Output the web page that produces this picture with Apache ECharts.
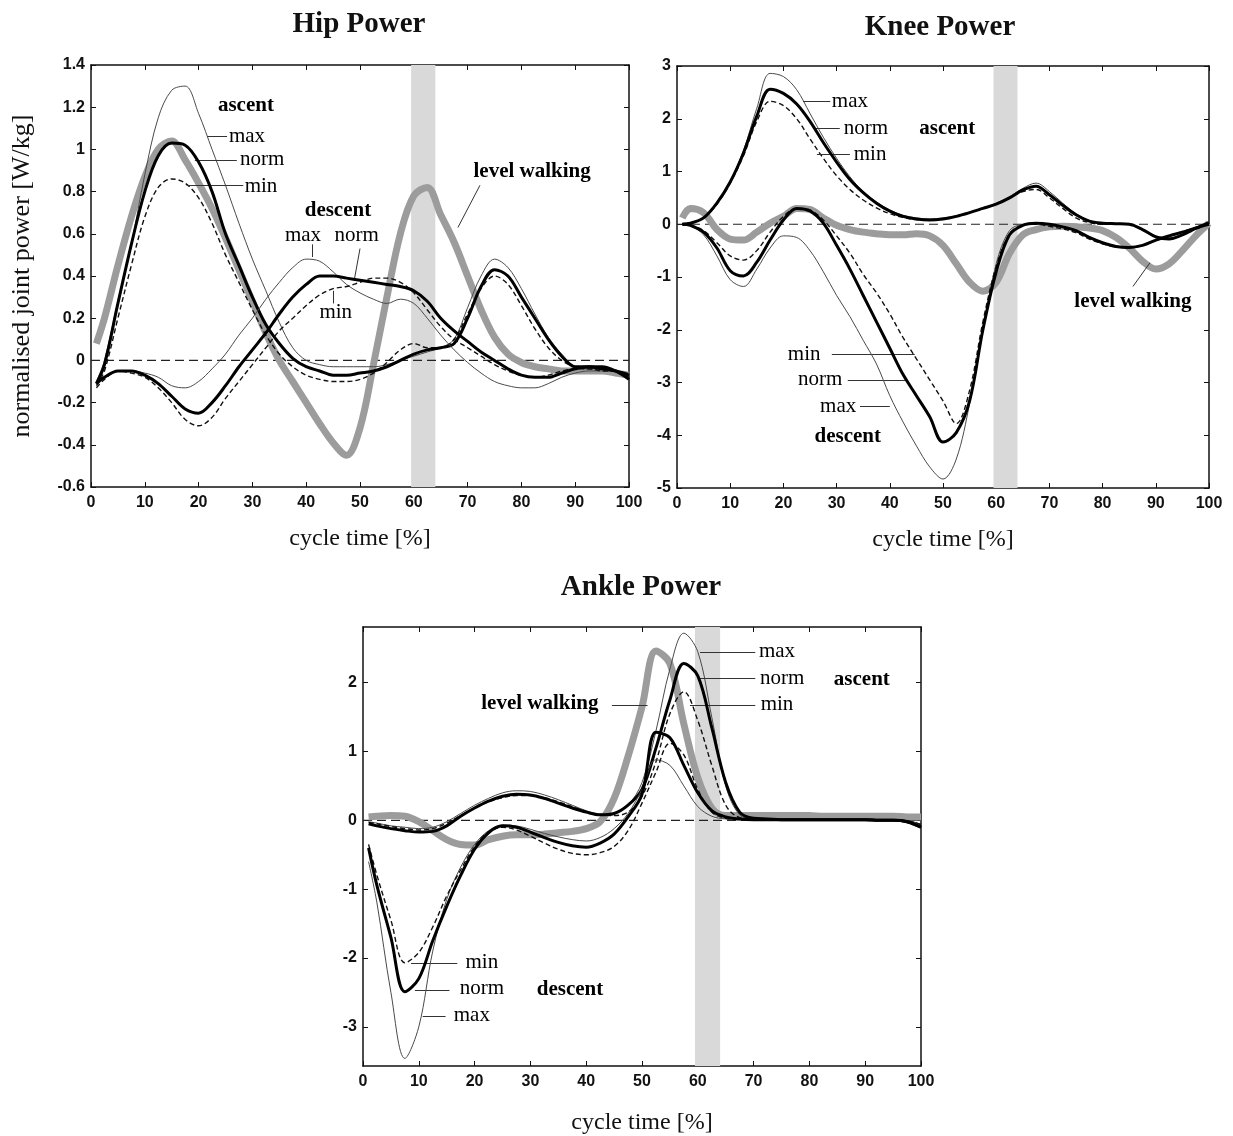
<!DOCTYPE html>
<html>
<head>
<meta charset="utf-8">
<script src="https://cdn.jsdelivr.net/npm/echarts@6/dist/echarts.min.js"></script>
<style>
  html, body { margin: 0; background: #fff; }
  #main { width: 1233px; height: 1136px; }
</style>
</head>
<body>
<div id="main"></div>
<script>
// cycle time [%] sample points (shared by every curve)
const cycle = [1, 2.5, 5, 7.5, 10, 12.5, 15, 17.5, 20, 22.5, 25, 27.5, 30, 32.5, 35, 37.5, 40, 42.5, 45, 47.5,
  50, 52.5, 55, 57.5, 60, 62.5, 65, 67.5, 70, 72.5, 75, 77.5, 80, 82.5, 85, 87.5, 90, 92.5, 95, 97.5, 100];

// hip power [W/kg]
const hipAscMax = [-0.10, 0.00, 0.28, 0.55, 0.88, 1.15, 1.28, 1.30, 1.17, 1.00, 0.83, 0.65, 0.48, 0.33, 0.18, 0.06, 0.00, -0.02, -0.03, -0.03,
  -0.03, -0.03, -0.02, 0.00, 0.02, 0.04, 0.06, 0.10, 0.25, 0.40, 0.48, 0.44, 0.34, 0.22, 0.11, 0.03, -0.03, -0.04, -0.04, -0.05, -0.08];
const hipAscNorm = [-0.11, -0.02, 0.27, 0.55, 0.80, 0.97, 1.03, 1.02, 0.94, 0.80, 0.60, 0.45, 0.30, 0.17, 0.08, 0.01, -0.03, -0.05, -0.07, -0.07,
  -0.06, -0.05, -0.03, 0.00, 0.03, 0.05, 0.06, 0.08, 0.20, 0.35, 0.43, 0.40, 0.30, 0.20, 0.10, 0.02, -0.03, -0.03, -0.03, -0.05, -0.09];
const hipAscMin = [-0.12, -0.05, 0.20, 0.45, 0.68, 0.82, 0.86, 0.84, 0.77, 0.65, 0.50, 0.37, 0.24, 0.12, 0.03, -0.03, -0.07, -0.09, -0.10, -0.10,
  -0.09, -0.06, -0.01, 0.05, 0.08, 0.06, 0.06, 0.10, 0.22, 0.34, 0.40, 0.36, 0.26, 0.15, 0.06, 0.00, -0.03, -0.04, -0.04, -0.05, -0.08];
const hipDesMax = [-0.12, -0.08, -0.05, -0.05, -0.06, -0.08, -0.12, -0.13, -0.10, -0.04, 0.03, 0.12, 0.20, 0.29, 0.37, 0.44, 0.48, 0.47, 0.42, 0.36,
  0.32, 0.29, 0.27, 0.29, 0.27, 0.20, 0.12, 0.05, -0.01, -0.06, -0.10, -0.12, -0.13, -0.13, -0.11, -0.08, -0.06, -0.05, -0.05, -0.05, -0.06];
const hipDesNorm = [-0.11, -0.08, -0.05, -0.05, -0.07, -0.11, -0.17, -0.23, -0.25, -0.20, -0.12, -0.03, 0.05, 0.13, 0.22, 0.30, 0.36, 0.40, 0.40, 0.39,
  0.38, 0.37, 0.36, 0.35, 0.33, 0.28, 0.20, 0.14, 0.09, 0.04, 0.00, -0.04, -0.07, -0.08, -0.08, -0.06, -0.04, -0.03, -0.04, -0.05, -0.07];
const hipDesMin = [-0.13, -0.09, -0.05, -0.06, -0.08, -0.13, -0.20, -0.28, -0.31, -0.27, -0.18, -0.10, -0.02, 0.06, 0.14, 0.20, 0.26, 0.31, 0.34, 0.35,
  0.37, 0.39, 0.39, 0.37, 0.32, 0.24, 0.16, 0.10, 0.06, 0.02, -0.02, -0.05, -0.07, -0.08, -0.07, -0.05, -0.04, -0.04, -0.05, -0.05, -0.07];
const hipLevel = [0.08, 0.20, 0.45, 0.68, 0.87, 1.00, 1.04, 0.95, 0.84, 0.72, 0.58, 0.43, 0.28, 0.13, 0.00, -0.10, -0.20, -0.30, -0.39, -0.45,
  -0.32, -0.02, 0.30, 0.60, 0.78, 0.82, 0.69, 0.56, 0.40, 0.24, 0.11, 0.03, -0.01, -0.03, -0.04, -0.05, -0.05, -0.05, -0.05, -0.06, -0.07];

// knee power [W/kg]
const kneeAscMax = [0.00, 0.02, 0.13, 0.42, 0.82, 1.40, 2.20, 2.86, 2.80, 2.55, 2.10, 1.65, 1.25, 0.90, 0.62, 0.42, 0.27, 0.17, 0.12, 0.10,
  0.12, 0.16, 0.23, 0.30, 0.40, 0.52, 0.68, 0.78, 0.62, 0.40, 0.20, 0.07, 0.02, 0.01, 0.00, -0.10, -0.22, -0.26, -0.20, -0.08, 0.03];
const kneeAscNorm = [0.00, 0.02, 0.12, 0.40, 0.80, 1.35, 2.05, 2.56, 2.48, 2.28, 1.95, 1.55, 1.18, 0.85, 0.60, 0.40, 0.25, 0.15, 0.10, 0.08,
  0.10, 0.15, 0.22, 0.30, 0.38, 0.50, 0.65, 0.72, 0.56, 0.36, 0.18, 0.06, 0.02, 0.01, 0.00, -0.10, -0.24, -0.28, -0.20, -0.08, 0.03];
const kneeAscMin = [0.00, 0.02, 0.12, 0.38, 0.78, 1.30, 1.95, 2.33, 2.25, 2.00, 1.62, 1.25, 0.92, 0.66, 0.46, 0.31, 0.20, 0.13, 0.09, 0.08,
  0.10, 0.15, 0.22, 0.30, 0.38, 0.50, 0.62, 0.66, 0.50, 0.30, 0.12, 0.03, 0.00, 0.00, 0.00, -0.10, -0.24, -0.28, -0.20, -0.08, 0.03];
const kneeDesMax = [0.00, -0.03, -0.20, -0.60, -1.05, -1.18, -0.85, -0.45, -0.22, -0.25, -0.50, -0.90, -1.35, -1.75, -2.20, -2.65, -3.25, -3.75, -4.20, -4.60,
  -4.83, -4.45, -3.40, -2.00, -0.75, -0.12, 0.00, 0.02, 0.00, -0.05, -0.13, -0.26, -0.37, -0.43, -0.45, -0.41, -0.31, -0.23, -0.15, -0.07, 0.00];
const kneeDesNorm = [0.00, -0.02, -0.15, -0.45, -0.88, -0.98, -0.72, -0.30, 0.08, 0.30, 0.25, 0.02, -0.40, -0.85, -1.35, -1.85, -2.35, -2.85, -3.25, -3.65,
  -4.13, -3.95, -3.35, -2.00, -0.90, -0.20, -0.02, 0.02, 0.00, -0.05, -0.12, -0.25, -0.35, -0.42, -0.44, -0.40, -0.30, -0.22, -0.15, -0.07, 0.00];
const kneeDesMin = [0.00, -0.02, -0.12, -0.35, -0.60, -0.68, -0.50, -0.15, 0.15, 0.30, 0.27, 0.08, -0.22, -0.55, -0.95, -1.30, -1.70, -2.15, -2.55, -2.95,
  -3.35, -3.78, -3.15, -1.85, -0.80, -0.18, -0.02, 0.00, -0.04, -0.09, -0.16, -0.28, -0.37, -0.43, -0.44, -0.40, -0.31, -0.22, -0.14, -0.07, 0.00];
const kneeLevel = [0.12, 0.30, 0.22, -0.10, -0.28, -0.30, -0.15, 0.02, 0.15, 0.30, 0.28, 0.12, -0.02, -0.10, -0.15, -0.18, -0.20, -0.20, -0.18, -0.22,
  -0.40, -0.75, -1.10, -1.27, -1.10, -0.55, -0.20, -0.10, -0.05, -0.04, -0.05, -0.07, -0.12, -0.25, -0.45, -0.70, -0.85, -0.75, -0.50, -0.22, 0.02];

// ankle power [W/kg]
const ankleAscMax = [-0.02, -0.04, -0.08, -0.10, -0.12, -0.10, -0.02, 0.10, 0.22, 0.32, 0.40, 0.43, 0.42, 0.37, 0.30, 0.22, 0.14, 0.09, 0.10, 0.22,
  0.55, 1.30, 2.20, 2.72, 2.45, 1.50, 0.50, 0.08, 0.03, 0.02, 0.02, 0.02, 0.02, 0.02, 0.02, 0.02, 0.02, 0.01, 0.01, 0.00, -0.06];
const ankleAscNorm = [-0.05, -0.08, -0.12, -0.15, -0.17, -0.16, -0.08, 0.06, 0.18, 0.28, 0.35, 0.38, 0.37, 0.32, 0.25, 0.18, 0.12, 0.08, 0.10, 0.22,
  0.45, 1.05, 1.75, 2.28, 2.10, 1.35, 0.55, 0.12, 0.03, 0.02, 0.01, 0.01, 0.01, 0.01, 0.01, 0.01, 0.01, 0.00, 0.00, -0.02, -0.10];
const ankleAscMin = [-0.03, -0.05, -0.09, -0.12, -0.14, -0.12, -0.04, 0.07, 0.18, 0.27, 0.33, 0.36, 0.36, 0.33, 0.27, 0.20, 0.13, 0.08, 0.07, 0.12,
  0.35, 0.85, 1.55, 1.87, 1.45, 0.80, 0.22, 0.04, 0.02, 0.02, 0.01, 0.01, 0.01, 0.01, 0.01, 0.01, 0.01, 0.00, 0.00, -0.01, -0.06];
const ankleDesMax = [-0.60, -1.20, -2.50, -3.46, -3.00, -1.90, -1.15, -0.68, -0.35, -0.15, -0.07, -0.08, -0.13, -0.19, -0.24, -0.28, -0.30, -0.25, -0.12, 0.10,
  0.45, 0.88, 0.80, 0.50, 0.20, 0.06, 0.02, 0.01, 0.01, 0.01, 0.01, 0.01, 0.01, 0.01, 0.01, 0.01, 0.01, 0.00, 0.00, -0.01, -0.06];
const ankleDesNorm = [-0.40, -0.95, -1.70, -2.49, -2.30, -1.75, -1.25, -0.80, -0.42, -0.18, -0.08, -0.10, -0.17, -0.25, -0.32, -0.37, -0.39, -0.33, -0.20, 0.05,
  0.38, 1.28, 1.20, 0.80, 0.40, 0.14, 0.05, 0.02, 0.01, 0.01, 0.01, 0.01, 0.01, 0.01, 0.01, 0.01, 0.01, 0.00, 0.00, -0.02, -0.10];
const ankleDesMin = [-0.35, -0.80, -1.45, -2.07, -1.92, -1.55, -1.10, -0.72, -0.38, -0.17, -0.10, -0.14, -0.23, -0.33, -0.42, -0.48, -0.50, -0.47, -0.38, -0.15,
  0.25, 0.70, 1.12, 0.95, 0.45, 0.12, 0.03, 0.01, 0.01, 0.01, 0.01, 0.01, 0.01, 0.01, 0.01, 0.01, 0.01, 0.00, 0.00, -0.01, -0.06];
const ankleLevel = [0.05, 0.06, 0.07, 0.06, -0.02, -0.15, -0.28, -0.35, -0.36, -0.28, -0.23, -0.21, -0.21, -0.20, -0.18, -0.16, -0.12, -0.02, 0.32, 0.93,
  1.65, 2.46, 2.28, 1.40, 0.62, 0.18, 0.07, 0.07, 0.07, 0.07, 0.07, 0.07, 0.07, 0.06, 0.06, 0.06, 0.06, 0.06, 0.06, 0.05, 0.05];

// y tick labels
const hipTicks = [-0.6, -0.4, -0.2, 0, 0.2, 0.4, 0.6, 0.8, 1, 1.2, 1.4];
const kneeTicks = [-5, -4, -3, -2, -1, 0, 1, 2, 3];
const ankleTicks = [-3, -2, -1, 0, 1, 2];

// shaded band (cycle time range)
const band = [59.5, 64];

// annotations: [text, cycle, value, bold]
const hipNotes = [['ascent', 28.8, 1.21, true], ['max', 29.0, 1.063], ['norm', 31.8, 0.95], ['min', 31.6, 0.826],
  ['descent', 45.9, 0.708, true], ['max', 39.4, 0.59], ['norm', 49.4, 0.59], ['min', 45.5, 0.225],
  ['level walking', 82.0, 0.897, true]];
const kneeNotes = [['max', 32.5, 2.32], ['norm', 35.5, 1.82], ['min', 36.3, 1.33], ['ascent', 50.8, 1.82, true],
  ['level walking', 85.7, -1.47, true], ['min', 23.9, -2.46], ['norm', 26.9, -2.95], ['max', 30.3, -3.45],
  ['descent', 32.1, -4.03, true]];
const ankleNotes = [['level walking', 31.7, 1.69, true], ['max', 74.2, 2.45], ['norm', 75.1, 2.06], ['min', 74.2, 1.68],
  ['ascent', 89.4, 2.04, true], ['min', 21.3, -2.06], ['norm', 21.3, -2.45], ['max', 19.5, -2.84],
  ['descent', 37.1, -2.46, true]];

// leader lines: [[cycle, value], [cycle, value]]
const hipLeaders = [[[21.6, 1.06], [25.3, 1.06]], [[19.3, 0.95], [27.1, 0.95]], [[17.8, 0.83], [28.3, 0.83]],
  [[41.2, 0.55], [41.2, 0.49]], [[50, 0.53], [49, 0.39]], [[45, 0.27], [45, 0.33]], [[72.3, 0.83], [68.2, 0.63]]];
const kneeLeaders = [[[23.7, 2.33], [28.8, 2.33]], [[25.6, 1.82], [30.6, 1.82]], [[26.3, 1.33], [32.5, 1.33]],
  [[85.7, -1.18], [88.9, -0.73]], [[29.1, -2.46], [44.7, -2.46]], [[32.1, -2.95], [42.9, -2.95]], [[34.4, -3.45], [40, -3.45]]];
const ankleLeaders = [[[44.6, 1.68], [51, 1.68]], [[60.4, 2.45], [70.3, 2.45]], [[60.4, 2.06], [70.3, 2.06]], [[58.6, 1.68], [70.3, 1.68]],
  [[8.6, -2.07], [16.9, -2.07]], [[9.3, -2.47], [15.5, -2.47]], [[10.7, -2.85], [14.8, -2.85]]];

const serif = 'Liberation Serif';
const sans = 'Liberation Sans';

const panels = [
  { title: 'Hip Power', tx: 359, ty: 25, grid: { left: 91, top: 65, width: 538, height: 422 },
    min: -0.6, max: 1.4, ticks: hipTicks, yName: 'normalised joint power [W/kg]', nameGap: 40,
    curves: [hipLevel, hipAscMax, hipAscMin, hipAscNorm, hipDesMax, hipDesMin, hipDesNorm],
    notes: hipNotes, leaders: hipLeaders },
  { title: 'Knee Power', tx: 940, ty: 28, grid: { left: 677, top: 66, width: 532, height: 422 },
    min: -5, max: 3, ticks: kneeTicks, yName: '', nameGap: 40,
    curves: [kneeLevel, kneeAscMax, kneeAscMin, kneeAscNorm, kneeDesMax, kneeDesMin, kneeDesNorm],
    notes: kneeNotes, leaders: kneeLeaders },
  { title: 'Ankle Power', tx: 641, ty: 588, grid: { left: 363, top: 627, width: 558, height: 439 },
    min: -3.57, max: 2.81, ticks: ankleTicks, yName: '', nameGap: 45,
    curves: [ankleLevel, ankleAscMax, ankleAscMin, ankleAscNorm, ankleDesMax, ankleDesMin, ankleDesNorm],
    notes: ankleNotes, leaders: ankleLeaders }
];

// level, max, min, norm styles
const styles = [
  { color: '#9c9c9c', width: 7, type: 'solid' },
  { color: '#4a4a4a', width: 1, type: 'solid' },
  { color: '#111', width: 1.4, type: [5, 3] },
  { color: '#000', width: 3, type: 'solid' },
  { color: '#4a4a4a', width: 1, type: 'solid' },
  { color: '#111', width: 1.4, type: [5, 3] },
  { color: '#000', width: 3, type: 'solid' }
];

const axisLine = { show: true, onZero: false, lineStyle: { color: '#111', width: 1.5 } };
const tickLabel = { fontFamily: sans, fontWeight: 'bold', fontSize: 16, color: '#111' };

const grids = [], xAxes = [], yAxes = [], series = [], graphics = [];

panels.forEach((p, g) => {
  grids.push(p.grid);
  const xb = { gridIndex: g, type: 'value', min: 0, max: 100, interval: 10, splitLine: { show: false },
    axisLine, axisTick: { inside: true, length: 5, lineStyle: { color: '#111' } } };
  xAxes.push(Object.assign({}, xb, { position: 'bottom', axisLabel: Object.assign({ margin: 8 }, tickLabel),
    name: 'cycle time [%]', nameLocation: 'middle', nameGap: p.nameGap,
    nameTextStyle: { fontFamily: serif, fontSize: 24, color: '#111' } }));
  xAxes.push(Object.assign({}, xb, { position: 'top', axisLabel: { show: false } }));
  const yb = { gridIndex: g, type: 'value', min: p.min, max: p.max, splitLine: { show: false }, axisLine,
    axisTick: { inside: true, length: 5, lineStyle: { color: '#111' }, customValues: p.ticks } };
  yAxes.push(Object.assign({}, yb, { position: 'left',
    axisLabel: Object.assign({ margin: 6, customValues: p.ticks }, tickLabel),
    name: p.yName, nameLocation: 'middle', nameGap: 56,
    nameTextStyle: { fontFamily: serif, fontSize: 26, color: '#111' } }));
  yAxes.push(Object.assign({}, yb, { position: 'right', axisLabel: { show: false } }));

  // dashed zero line, carrying the shaded band and the leader lines
  series.push({
    type: 'line', xAxisIndex: 2 * g, yAxisIndex: 2 * g, data: [[0, 0], [100, 0]],
    symbol: 'none', silent: true, z: 1,
    lineStyle: { color: '#222', width: 1.2, type: [9, 5] },
    markArea: { silent: true, itemStyle: { color: '#d9d9d9' },
      data: [[{ xAxis: band[0] }, { xAxis: band[1] }]] },
    markLine: { silent: true, symbol: 'none', label: { show: false },
      lineStyle: { color: '#333', width: 1, type: 'solid' },
      data: p.leaders.map(l => [{ coord: l[0] }, { coord: l[1] }]) }
  });

  p.curves.forEach((vals, k) => {
    series.push({
      type: 'line', xAxisIndex: 2 * g, yAxisIndex: 2 * g, symbol: 'none', smooth: 0.35, silent: true,
      z: 2 + k, lineStyle: styles[k],
      data: cycle.map((t, i) => [t, vals[i]])
    });
  });

  series.push({
    type: 'scatter', xAxisIndex: 2 * g, yAxisIndex: 2 * g, symbolSize: 1, silent: true, z: 20,
    itemStyle: { color: 'rgba(0,0,0,0)' },
    label: { show: true, position: 'inside', formatter: d => d.name,
      fontFamily: serif, fontSize: 21, color: '#000', textBorderWidth: 0, opacity: 1 },
    data: p.notes.map(n => ({ name: n[0], value: [n[1], n[2]],
      label: { fontWeight: n[3] ? 'bold' : 'normal' } }))
  });

  graphics.push({ type: 'text', x: p.tx, y: p.ty,
    style: { text: p.title, textAlign: 'center', textVerticalAlign: 'middle',
      font: 'bold 29px "Liberation Serif"', fill: '#111' } });
});

const chart = echarts.init(document.getElementById('main'), null, { renderer: 'canvas' });
chart.setOption({
  backgroundColor: '#fff',
  animation: false,
  grid: grids,
  xAxis: xAxes,
  yAxis: yAxes,
  series: series,
  graphic: graphics
});
</script>
</body>
</html>
